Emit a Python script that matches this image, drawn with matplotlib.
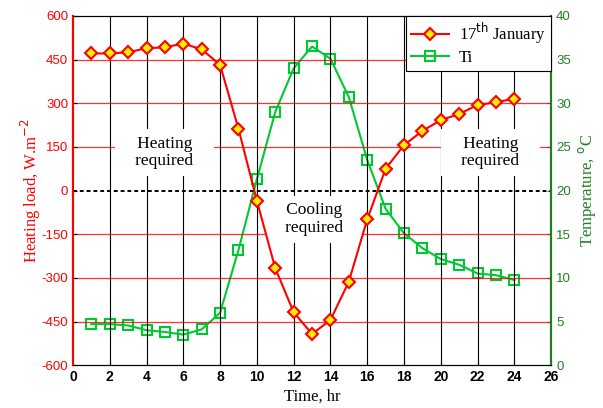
import matplotlib
matplotlib.use("Agg")
import matplotlib.pyplot as plt

plt.rcParams["axes.unicode_minus"] = False

hours = list(range(1, 25))
heating_load = [471, 471, 475, 489, 492, 505, 485, 432, 212, -35, -267, -418,
                -493, -445, -313, -99, 75, 156, 205, 242, 263, 294, 303, 316]
temp_ti = [4.7, 4.7, 4.55, 4.0, 3.8, 3.5, 4.1, 6.0, 13.2, 21.3, 29.0, 34.0,
           36.5, 35.1, 30.7, 23.5, 17.9, 15.1, 13.4, 12.15, 11.5, 10.5, 10.3, 9.75]
x_ticks = list(range(0, 27, 2))
left_ticks = list(range(-600, 601, 150))
right_ticks = list(range(0, 41, 5))
annotations = [(4.98, 130, "Heating\nrequired"), (13.09, -98, "Cooling\nrequired"),
               (22.7, 130, "Heating\nrequired")]

serif = ["Liberation Serif", "DejaVu Serif"]
sans = ["Liberation Sans", "DejaVu Sans"]
red = "#ff0000"
green = "#00c832"
dgreen = "#208020"

fig = plt.figure(figsize=(6.03, 4.08), dpi=100)
ax = fig.add_axes([0.121, 0.105, 0.793, 0.856])
ax2 = ax.twinx()

ax.set_xlim(0, 26)
ax.set_ylim(-600, 600)
ax2.set_ylim(0, 40)

for xv in x_ticks[1:-1]:
    ax.axvline(xv, color="black", lw=0.8, zorder=0)
for yv in left_ticks[1:-1]:
    if yv != 0:
        ax.axhline(yv, color=red, lw=0.9, alpha=0.8, zorder=0)
ax.axhline(0, color="black", lw=1.4, ls=(0, (2, 1.5)), zorder=1)

for xt, yt, s in annotations:
    padded = "\n".join("\u00a0\u00a0\u00a0" + ln + "\u00a0\u00a0\u00a0" for ln in s.split("\n"))
    ax.text(xt, yt, padded, ha="center", va="center", fontsize=12.5, family=serif,
            linespacing=1.1, zorder=2,
            bbox=dict(facecolor="white", edgecolor="none", pad=5))

l1, = ax.plot(hours, heating_load, color=red, lw=1.5, marker="D", ms=6.5,
              mfc="#ffee00", mec=red, mew=1.5, zorder=3, label="17$^{\\mathrm{th}}$ January")
l2, = ax2.plot(hours, temp_ti, color=green, lw=1.5, marker="s", ms=7,
               mfc="none", mec=green, mew=1.5, zorder=3, label="Ti")

ax.set_zorder(ax2.get_zorder() + 1)
ax.patch.set_visible(False)

ax.set_xticks(x_ticks)
ax.set_yticks(left_ticks)
ax2.set_yticks(right_ticks)
ax.tick_params(axis="x", direction="in", length=3, labelsize=10, colors="black")
for lab in ax.get_xticklabels():
    lab.set_family(sans)
    lab.set_fontweight("bold")
ax.tick_params(axis="y", direction="in", length=3, labelsize=9.5, labelcolor=red, color="black")
for lab in ax.get_yticklabels():
    lab.set_family(sans)
ax2.tick_params(axis="y", direction="in", length=3, labelsize=9.5, labelcolor=dgreen, color=dgreen)
for lab in ax2.get_yticklabels():
    lab.set_family(sans)

for a in (ax, ax2):
    a.spines["top"].set_color("black")
    a.spines["bottom"].set_color("black")
    a.spines["left"].set_color(red)
    a.spines["right"].set_color(dgreen)
    a.spines["left"].set_linewidth(1.5)
    a.spines["right"].set_linewidth(1.5)

ax.set_xlabel("Time, hr", fontsize=12, family=serif, labelpad=3)
ax.set_ylabel("Heating load, W.m$^{-2}$", fontsize=12, family=serif, color=red, labelpad=-1)
ax2.set_ylabel("Temperature, $^{\\mathrm{o}}$C", fontsize=12, family=serif, color=dgreen, labelpad=4)

leg = ax.legend(handles=[l1, l2], loc="upper right", prop={"family": serif, "size": 12},
                fancybox=False, framealpha=1, edgecolor="black", borderaxespad=0,
                handlelength=2.3, borderpad=0.3, labelspacing=0.25, handletextpad=0.6)
leg.get_frame().set_linewidth(0.8)
leg.set_zorder(5)

fig.savefig("out.png", dpi=100)
